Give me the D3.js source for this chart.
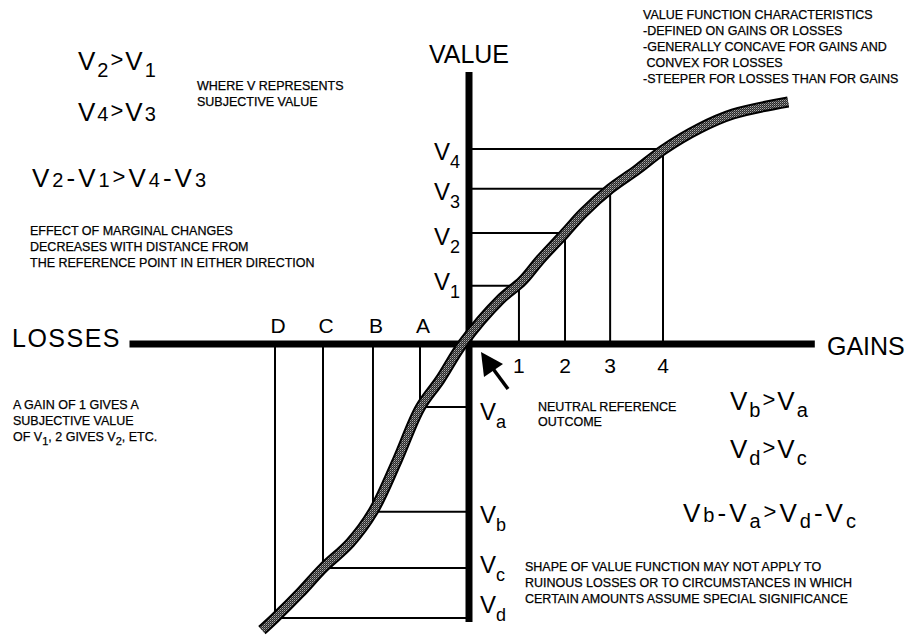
<!DOCTYPE html>
<html>
<head>
<meta charset="utf-8">
<script src="https://cdn.jsdelivr.net/npm/d3@7"></script>
<style>
  body { margin: 0; background: #fff; }
  svg { display: block; font-family: "Liberation Sans", Arial, Helvetica, sans-serif; }
</style>
</head>
<body>
<div id="chart"></div>
<script>
// ===== DATA =====
// gains (right of the reference point) and their subjective values
const gainLabels = ["1", "2", "3", "4"];
const gainAmounts = [1.03, 1.98, 2.91, 4.0];
const gainValues = [1.20, 2.29, 3.20, 4.02];
const gainSubs = ["1", "2", "3", "4"];

// losses (left of the reference point)
const lossLabels = ["A", "B", "C", "D"];
const lossAmounts = [-1.01, -1.98, -3.01, -4.0];
const lossValues = [-1.30, -3.46, -4.62, -5.65];
const lossSubs = ["a", "b", "c", "d"];

// hand drawn value function
const curveAmounts = [-4.27, -4.0, -3.48, -3.01, -2.45, -1.98, -1.48, -1.01, -0.60, -0.12,
  0.64, 1.10, 1.46, 1.98, 2.35, 2.91, 3.46, 4.0, 4.76, 5.44, 6.58];
const curveValues = [-5.90, -5.65, -5.13, -4.62, -4.10, -3.46, -2.40, -1.32, -0.74, 0.02,
  0.91, 1.30, 1.73, 2.29, 2.70, 3.20, 3.59, 4.0, 4.45, 4.74, 4.99];

// extent of the two axes
const amountExtent = [-7.0, 7.13];
const valueExtent = [-5.73, 5.61];

// notes
const notesTopRight = [
  "VALUE FUNCTION CHARACTERISTICS",
  "-DEFINED ON GAINS OR LOSSES",
  "-GENERALLY CONCAVE FOR GAINS AND",
  " CONVEX FOR LOSSES",
  "-STEEPER FOR LOSSES THAN FOR GAINS"
];
const notesWhere = ["WHERE V REPRESENTS", "SUBJECTIVE VALUE"];
const notesEffect = [
  "EFFECT OF MARGINAL CHANGES",
  "DECREASES WITH DISTANCE FROM",
  "THE REFERENCE POINT IN EITHER DIRECTION"
];
const notesNeutral = ["NEUTRAL REFERENCE", "OUTCOME"];
const notesShape = [
  "SHAPE OF VALUE FUNCTION MAY NOT APPLY TO",
  "RUINOUS LOSSES OR TO CIRCUMSTANCES IN WHICH",
  "CERTAIN AMOUNTS ASSUME SPECIAL SIGNIFICANCE"
];

// ===== DRAW =====
const width = 916, height = 635;
const unit = 48.5;
const x0 = 469, y0 = 344;

const x = d3.scaleLinear()
  .domain(amountExtent)
  .range([x0 + amountExtent[0] * unit, x0 + amountExtent[1] * unit]);
const y = d3.scaleLinear()
  .domain(valueExtent)
  .range([y0 - valueExtent[0] * unit, y0 - valueExtent[1] * unit]);

const svg = d3.select("#chart").append("svg")
  .attr("width", width)
  .attr("height", height);

// dithered fill for the curve
const pat = svg.append("defs").append("pattern")
  .attr("id", "dither")
  .attr("width", 2).attr("height", 2)
  .attr("patternUnits", "userSpaceOnUse");
pat.append("rect").attr("width", 2).attr("height", 2).attr("fill", "#2a2a2a");
pat.append("rect").attr("width", 1).attr("height", 1).attr("fill", "#aaa");
pat.append("rect").attr("x", 1).attr("y", 1).attr("width", 1).attr("height", 1).attr("fill", "#666");

// helper lines (rectangles against the axes)
const guides = svg.append("g").attr("stroke", "#000").attr("stroke-width", 2).attr("fill", "none");
const pairs = gainAmounts.map((a, i) => [a, gainValues[i]])
  .concat(lossAmounts.map((a, i) => [a, lossValues[i]]));
pairs.forEach(([a, v]) => {
  guides.append("line")
    .attr("x1", x(a)).attr("y1", y(0))
    .attr("x2", x(a)).attr("y2", y(v));
  guides.append("line")
    .attr("x1", x(0)).attr("y1", y(v))
    .attr("x2", x(a)).attr("y2", y(v));
});

// axes
svg.append("line")
  .attr("x1", x(amountExtent[0])).attr("x2", x(amountExtent[1]))
  .attr("y1", y(0)).attr("y2", y(0))
  .attr("stroke", "#000").attr("stroke-width", 7);
svg.append("line")
  .attr("x1", x(0)).attr("x2", x(0))
  .attr("y1", y(valueExtent[0])).attr("y2", y(valueExtent[1]))
  .attr("stroke", "#000").attr("stroke-width", 7);

// value function
const pts = curveAmounts.map((a, i) => [a, curveValues[i]]);
const line = d3.line()
  .x(d => x(d[0]))
  .y(d => y(d[1]))
  .curve(d3.curveCatmullRom.alpha(0.5));
svg.append("path")
  .attr("d", line(pts))
  .attr("fill", "none")
  .attr("stroke", "#000")
  .attr("stroke-width", 11)
  .attr("stroke-linecap", "butt");
svg.append("path")
  .attr("d", line(pts))
  .attr("fill", "none")
  .attr("stroke", "url(#dither)")
  .attr("stroke-width", 7)
  .attr("stroke-linecap", "butt");

// ===== TEXT =====
// parts: [text, font size, baseline offset]; dy keeps one text chunk so anchors work
function rich(px, py, parts, spacing) {
  const t = svg.append("text")
    .attr("x", px).attr("y", py)
    .attr("fill", "#000")
    .style("letter-spacing", (spacing || 0) + "px");
  let cur = 0;
  parts.forEach(p => {
    const off = p[2] || 0;
    t.append("tspan")
      .attr("dy", off - cur)
      .attr("font-size", p[1])
      .text(p[0]);
    cur = off;
  });
  return t;
}

function block(px, py, lines, step, size) {
  lines.forEach((l, i) => {
    svg.append("text")
      .attr("x", px).attr("y", py + i * step)
      .attr("font-size", size || 12.5)
      .attr("fill", "#000")
      .attr("stroke", "#000").attr("stroke-width", 0.25)
      .style("white-space", "pre")
      .text(l);
  });
}

// axis titles
svg.append("text").attr("x", x(0)).attr("y", 63)
  .attr("text-anchor", "middle").attr("font-size", 25).text("VALUE");
svg.append("text").attr("x", 12).attr("y", y(0) + 3)
  .attr("font-size", 25).style("letter-spacing", "1.5px").text("LOSSES");
svg.append("text").attr("x", 827).attr("y", y(0) + 11)
  .attr("font-size", 25).text("GAINS");

// gain / loss ticks
gainAmounts.forEach((a, i) => {
  svg.append("text").attr("x", x(a)).attr("y", y(0) + 29)
    .attr("text-anchor", "middle").attr("font-size", 21).text(gainLabels[i]);
});
lossAmounts.forEach((a, i) => {
  svg.append("text").attr("x", x(a) + 3).attr("y", y(0) - 11)
    .attr("text-anchor", "middle").attr("font-size", 21).text(lossLabels[i]);
});

// value labels along the axis
const gainDy = [4, 12, 11, 11];
gainValues.forEach((v, i) => {
  rich(x(0) - 9, y(v) + gainDy[i], [["V", 24], [gainSubs[i], 18, 8]])
    .attr("text-anchor", "end");
});
const lossDy = [13, 11, 5, -5];
lossValues.forEach((v, i) => {
  rich(x(0) + 11, y(v) + lossDy[i], [["V", 24], [lossSubs[i], 18, 8]]);
});

// inequalities
rich(78, 70, [["V", 26], ["2", 20, 7], [">", 22, -3], ["V", 26], ["1", 20, 7]], 2);
rich(78, 121, [["V", 26], ["4", 20], [">", 22, -3], ["V", 26], ["3", 20]], 2);
rich(32, 187, [["V", 26], ["2", 20], ["-", 26], ["V", 26], ["1", 20], [">", 22, -3],
  ["V", 26], ["4", 20], ["-", 26], ["V", 26], ["3", 20]], 3);

rich(730, 410, [["V", 26], ["b", 20, 7], [">", 22, -3], ["V", 26], ["a", 20, 7]], 2);
rich(730, 458, [["V", 26], ["d", 20, 7], [">", 22, -3], ["V", 26], ["c", 20, 7]], 2);
rich(683, 522, [["V", 26], ["b", 20], ["-", 26], ["V", 26], ["a", 20, 6], [">", 22, -3],
  ["V", 26], ["d", 20, 6], ["-", 26], ["V", 26], ["c", 20, 6]], 3);

// notes
block(643, 19, notesTopRight, 16);
block(197, 90, notesWhere, 16);
block(30, 235, notesEffect, 16);
block(538, 411, notesNeutral, 15);
block(525, 571, notesShape, 16);

// "a gain of 1 ..." note with subscripts
block(13, 409, ["A GAIN OF 1 GIVES A", "SUBJECTIVE VALUE"], 16);
rich(13, 441, [["OF V", 12.5], ["1", 11, 4], [", 2 GIVES V", 12.5], ["2", 11, 4], [", ETC.", 12.5]])
  .attr("stroke", "#000").attr("stroke-width", 0.25);

// arrow to the reference point
const tip = [x(0) + 12, y(0) + 8];
svg.append("line")
  .attr("x1", tip[0] + 27).attr("y1", tip[1] + 37)
  .attr("x2", tip[0] + 10).attr("y2", tip[1] + 14)
  .attr("stroke", "#000").attr("stroke-width", 3.5);
svg.append("path")
  .attr("d", `M${tip[0]},${tip[1]} L${tip[0] + 3},${tip[1] + 25} L${tip[0] + 22},${tip[1] + 12} Z`)
  .attr("fill", "#000");
</script>
</body>
</html>
